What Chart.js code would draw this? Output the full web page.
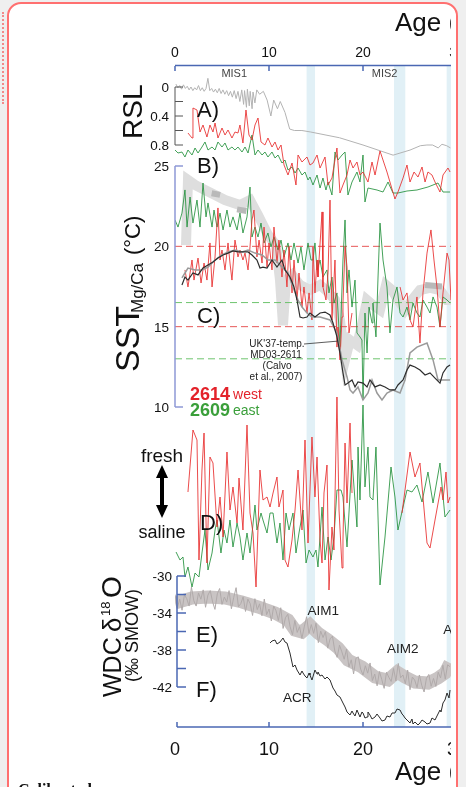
<!DOCTYPE html>
<html>
<head>
<meta charset="utf-8">
<script src="https://cdn.jsdelivr.net/npm/chart.js@4.4.1/dist/chart.umd.min.js"></script>
<style>
  html, body { margin: 0; padding: 0; width: 466px; height: 787px; overflow: hidden; background: #efefef; }
  #frame { position: absolute; left: 7px; top: 2px; width: 447px; height: 830px; background: #fff;
           border: 2px solid #ff7070; border-radius: 14px; }
  #dots { position: absolute; left: 2px; top: 12px; height: 92px; border-left: 2px dotted #f28a8a; }
  #clip { position: absolute; left: 0; top: 0; width: 451px; height: 787px; overflow: hidden; }
  #cap { position: absolute; left: 18px; top: 781px; font: bold 16px "Liberation Serif", serif; color: #111; }
</style>
</head>
<body>
<div id="dots"></div>
<div id="frame"></div>
<div id="clip"><canvas id="fig" width="520" height="787"></canvas></div>
<div id="cap">Calibrated</div>
<script>
// ---- data (age in ka) ----
const ageTicks = [0, 10, 20, 30];
const rslTicks = [0, 0.4, 0.8];
const rslMinor = [0, 0.2, 0.4, 0.6, 0.8];
const sstTicks = [25, 20, 15, 10];
const wdcTicks = [-30, -34, -38, -42];
const wdcMinor = [-30, -32, -34, -36, -38, -40, -42];
const coldBands = [[14.0, 14.9], [23.3, 24.5], [28.9, 29.8]];
const sstLevelsWest = [20, 15];
const sstLevelsEast = [16.5, 13.0];

// A) relative sea level
const rsl = [[0.1,-0.04],[0.3,0.01],[0.5,-0.02],[0.7,0.03],[0.9,-0.03],[1.1,0.02],[1.3,-0.01],[1.5,0.04],[1.7,0.0],[1.9,0.05],
  [2.1,0.01],[2.3,0.04],[2.5,-0.02],[2.7,0.05],[2.9,0.01],[3.1,0.06],[3.3,0.02],[3.5,-0.12],[3.7,0.05],[3.9,0.02],
  [4.1,0.07],[4.3,0.03],[4.5,0.08],[4.7,0.02],[4.9,0.09],[5.1,0.04],[5.3,0.1],[5.5,0.05],[5.7,0.12],[5.9,0.06],
  [6.1,0.14],[6.3,0.05],[6.5,0.16],[6.7,0.06],[6.9,0.2],[7.1,0.04],[7.3,0.24],[7.4,0.05],[7.6,0.28],[7.7,0.03],
  [7.9,0.26],[8.0,0.06],[8.2,0.3],[8.3,0.07],[8.5,0.22],[8.7,0.04],[9.0,0.1],[9.4,0.06],[9.8,0.18],[10.2,0.4],
  [10.5,0.18],[10.9,0.3],[11.2,0.2],[11.7,0.35],[12.2,0.58],[12.7,0.6],[13.5,0.6],[14.4,0.62],[17.5,0.70],[20.0,0.8],
  [23.2,0.94],[25.0,0.87],[26.1,0.81],[26.8,0.8],[27.4,0.8],[28.0,0.84],[28.4,0.79],[28.9,0.81],[29.3,0.84]];

// B) 2614 west / 2609 east (arbitrary units)
const b2614 = [[1.38,1.65],[1.81,1.90],[1.91,0.40],[2.34,0.50],[2.66,1.60],[2.98,1.25],[3.40,1.85],[3.72,1.25],[4.04,1.60],[4.26,1.15],
  [4.57,1.90],[5.00,1.40],[5.32,1.75],[5.64,1.50],[6.06,1.90],[6.38,1.60],[6.70,1.65],[6.91,1.25],[7.23,2.15],[7.55,0.50],
  [7.87,1.75],[8.19,2.00],[8.51,1.25],[8.83,0.90],[9.15,2.10],[9.57,2.25],[9.89,1.90],[10.32,2.35],[10.64,2.10],[10.96,2.50],
  [11.28,2.25],[11.60,3.25],[12.02,3.75],[12.45,3.15],[12.87,4.25],[13.09,2.75],[13.51,3.10],[14.04,2.85],[14.36,3.25],[14.68,3.15],
  [15.11,2.75],[15.43,3.40],[15.96,2.85],[16.28,4.25],[16.70,3.90],[17.23,2.40],[17.55,4.65],[17.87,4.25],[18.30,3.75],[18.62,3.00],
  [18.94,3.40],[19.36,3.10],[19.68,3.75],[20.0,3.60],[20.53,4.10],[20.96,3.10],[21.28,3.75],[21.81,2.55],[22.55,3.60],[23.40,4.95],
  [23.72,4.60],[24.26,3.90],[24.68,3.25],[25.0,4.10],[25.43,3.60],[25.85,3.85],[26.28,3.35],[26.60,4.10],[26.91,3.60],[27.34,3.75],
  [27.66,4.10],[28.19,4.60],[28.51,3.75],[29.04,3.40],[29.26,3.60]];
const b2609 = [[0,2.50],[0.32,2.65],[0.74,2.60],[1.06,2.85],[1.38,2.50],[1.81,2.75],[2.13,2.40],[2.45,2.65],[2.87,2.35],[3.19,2.10],
  [3.51,2.50],[3.94,2.35],[4.26,2.50],[4.57,2.10],[5.00,2.35],[5.32,2.15],[5.64,2.50],[6.06,2.35],[6.38,2.50],[6.70,2.35],
  [7.13,2.60],[7.45,2.35],[7.77,2.65],[8.19,1.75],[8.51,2.75],[8.83,2.50],[9.26,2.75],[9.57,2.60],[9.89,2.85],[10.32,2.60],
  [10.64,2.90],[10.96,2.75],[11.38,3.15],[11.70,3.00],[12.02,3.50],[12.45,3.35],[12.77,3.65],[13.09,3.40],[13.51,3.75],[13.83,3.60],
  [14.15,4.00],[14.36,3.85],[14.68,4.25],[15.11,3.75],[15.43,4.40],[15.74,3.90],[16.06,4.50],[16.28,4.10],[16.70,4.75],[17.02,2.60],
  [17.34,3.00],[17.77,2.75],[18.09,2.60],[18.40,4.75],[18.83,4.10],[19.36,3.60],[19.68,4.10],[20.0,2.75],[20.21,5.10],[20.53,4.40],
  [21.49,4.50],[22.13,4.60],[22.66,4.10],[23.19,4.65],[23.72,4.65],[24.68,4.55],[25.74,4.50],[26.91,4.35],[27.98,4.15],[28.51,4.60],
  [29.26,4.60]];

// C) SST Mg/Ca (deg C)
const sst2614 = [[1.06,18.53],[1.38,17.47],[1.81,19.15],[2.02,17.90],[2.45,19.27],[2.77,17.72],[3.09,18.96],[3.40,17.90],[3.72,20.21],[3.94,17.47],
  [4.26,19.34],[4.57,22.39],[4.79,19.15],[5.00,19.77],[5.32,18.53],[5.64,20.21],[5.85,18.96],[6.06,17.90],[6.38,20.39],[6.70,19.34],
  [6.91,19.77],[7.23,19.15],[7.45,19.58],[7.77,18.53],[7.98,19.96],[8.19,21.64],[8.40,22.26],[8.72,19.34],[8.94,20.39],[9.26,18.96],
  [9.47,21.20],[9.79,18.71],[10.0,20.21],[10.32,18.53],[10.53,21.20],[10.85,18.96],[11.06,20.39],[11.38,18.09],[11.60,19.77],[11.91,17.47],
  [12.13,19.96],[12.45,17.10],[12.66,19.15],[12.98,16.66],[13.19,18.34],[13.51,16.22],[13.72,17.47],[14.04,15.85],[14.26,17.10],[14.57,15.42],
  [14.68,19.96],[14.89,17.10],[15.11,19.15],[15.21,18.09],[15.64,22.14],[15.74,17.47],[16.06,16.66],[16.28,18.34],[16.49,22.88],[16.70,15.42],
  [17.02,19.15],[17.23,13.73],[17.34,14.98],[17.55,12.93],[17.77,15.60],[17.87,16.47],[18.09,19.96],[18.30,18.71],[18.51,14.61],[18.83,15.85],
  [21.0,null],
  [23.94,17.47],[24.26,16.66],[24.68,17.10],[25.0,15.42],[25.32,14.98],[25.74,16.85],[26.06,13.98],[26.38,17.10],[26.81,19.58],[27.23,21.02],
  [27.55,19.15],[27.87,17.47],[28.19,14.98],[28.51,17.10],[28.94,19.58],[29.15,19.15],[29.36,16.66]];
const sst2609 = [[0,21.64],[0.32,21.20],[0.74,22.07],[1.06,23.51],[1.28,21.20],[1.60,23.07],[1.91,21.45],[2.34,22.88],[2.66,21.20],[2.98,23.94],
  [3.30,21.83],[3.51,22.70],[3.94,21.20],[4.15,22.26],[4.47,21.20],[4.79,22.07],[5.11,21.02],[5.53,22.26],[5.85,21.20],[6.17,21.83],
  [6.60,21.02],[6.91,22.07],[7.23,20.83],[7.66,21.83],[7.98,23.69],[8.19,20.58],[8.51,21.20],[8.83,20.58],[9.15,21.45],[9.47,20.21],
  [9.89,20.83],[10.21,19.96],[10.53,20.58],[10.96,19.77],[11.28,20.39],[11.60,19.34],[12.02,20.21],[12.34,19.15],[12.66,20.21],[13.09,18.96],
  [13.40,19.96],[13.72,18.53],[14.15,20.21],[14.47,19.15],[14.68,19.15],[14.89,20.21],[15.11,18.53],[15.43,19.15],[15.74,18.09],[16.17,18.53],
  [16.38,17.10],[16.70,18.09],[16.91,16.47],[17.23,17.10],[17.55,13.73],[17.87,19.15],[18.09,21.64],[18.30,17.10],[18.51,18.53],[18.83,16.22],
  [19.15,17.90],[19.36,14.61],[19.68,14.36],[19.89,14.17],[20.0,10.44],[20.21,15.85],[20.43,13.36],[20.64,16.22],[20.96,15.23],[21.06,16.47],
  [21.38,14.36],[21.60,18.09],[21.81,21.45],[22.13,19.15],[22.55,17.47],[22.87,14.61],[23.19,16.66],[23.62,17.47],[23.94,15.85],[24.26,15.60],
  [24.68,16.22],[25.0,15.42],[25.32,16.47],[25.74,15.85],[26.06,15.60],[26.38,16.66],[26.81,16.22],[27.13,15.85],[27.45,16.85],[27.87,16.22],
  [28.19,14.98],[28.51,16.85],[28.94,16.66],[29.26,16.47]];
// UK'37 temperature, MD03-2611 (Calvo et al., 2007)
const ukBlack = [[0.74,17.59],[1.06,18.09],[1.38,17.90],[1.91,18.34],[2.45,18.22],[2.98,18.65],[3.51,18.84],[4.04,19.02],[4.57,19.27],[5.11,19.46],
  [5.64,19.58],[6.17,19.71],[6.70,19.65],[7.23,19.65],[7.77,19.65],[8.19,19.46],[8.72,19.15],[9.04,18.65],[9.36,18.71],[9.79,18.65],
  [10.32,19.15],[10.85,18.71],[11.38,19.15],[11.70,18.53],[12.23,18.09],[12.66,17.47],[12.98,16.66],[13.30,15.60],[13.62,15.54],[14.04,15.60],
  [14.36,15.85],[14.89,15.60],[15.43,15.85],[15.96,15.91],[16.49,15.73],[16.81,15.23],[17.23,14.36],[17.55,13.36],[17.87,12.12],[18.09,11.37],
  [18.40,11.49],[18.83,11.68],[19.15,11.25],[19.47,11.56],[20.0,11.49],[20.43,11.25],[20.74,11.68],[21.28,11.25],[21.81,11.37],[22.34,11.25],
  [22.87,11.06],[23.40,11.06],[23.72,11.37],[24.26,11.68],[24.68,12.30],[25.0,12.61],[25.53,12.49],[26.06,12.30],[26.60,11.99],[27.13,12.12],
  [27.66,11.80],[28.19,11.49],[28.51,12.12],[28.94,12.49],[29.26,12.61]];
const ukGray = [[0.74,18.03],[1.06,18.34],[1.38,18.65],[2.13,18.53],[2.87,18.53],[3.51,18.71],[4.26,19.15],[5.00,19.46],[5.64,19.65],[6.38,19.77],
  [7.13,19.65],[7.77,19.77],[8.51,19.58],[9.26,19.46],[9.89,19.15],[10.64,19.15],[11.38,18.71],[12.02,18.34],[12.55,17.47],[13.09,16.66],
  [13.51,16.22],[14.04,15.85],[14.57,15.60],[15.43,15.60],[16.49,15.42],[17.23,14.61],[17.77,12.93],[18.30,11.87],[18.62,11.06],[18.94,10.87],
  [19.47,11.25],[20.0,10.44],[20.53,10.87],[20.96,11.68],[21.49,10.87],[22.02,10.44],[22.55,10.87],[23.19,11.06],[23.94,10.87],[24.47,11.68],
  [25.0,13.36],[25.74,13.73],[26.81,13.98],[27.45,12.93],[27.98,11.68],[28.51,11.68],[29.26,11.68]];
// broad grey SST envelope behind panel C
const sstBand = [[1.17,20.08],[1.38,24.13],[2.13,23.82],[3.19,23.51],[4.26,23.20],[5.32,22.88],[6.91,22.57],[7.98,22.88],[8.83,21.95],[9.89,20.71],
  [10.74,20.08],[11.17,17.90],[11.49,15.10],[11.81,17.90],[12.45,18.22],[13.30,17.59],[14.36,17.28],[15.43,17.59],[16.28,17.16],[17.02,16.66],
  [17.55,15.42],[18.09,12.93],[18.62,14.17],[19.36,13.86],[19.89,15.10],[20.43,16.66],[21.06,16.35],[21.81,16.04],[22.45,17.59],[23.09,17.28],
  [23.72,16.66],[24.47,16.04],[25.21,16.66],[26.06,17.28],[27.13,17.41],[28.19,17.28],[28.94,16.66],[29.47,16.66]];
const sstBandDark = [[3.9,23.3],[4.8,23.2],[5.5,null],[6.6,22.3],[7.6,22.2],[15,null],[26.6,17.6],[28.4,17.5]];

// D) salinity proxy (fresh up)
const d2614 = [[1.38,3.60],[1.91,0.50],[2.34,1.00],[2.55,7.00],[2.87,2.50],[3.09,0.65],[3.40,7.15],[3.72,1.85],[4.04,2.15],[4.47,5.35],
  [4.79,3.85],[5.11,5.85],[5.53,1.60],[5.85,4.50],[6.17,3.35],[6.60,5.15],[6.81,2.90],[7.23,5.50],[7.66,0.25],[7.98,4.65],
  [8.30,5.65],[8.62,8.35],[9.04,2.50],[9.36,4.00],[9.79,3.85],[10.11,4.35],[10.43,3.65],[10.85,2.85],[11.06,4.35],[11.49,3.50],
  [11.70,7.00],[12.02,7.35],[12.45,6.00],[12.77,4.50],[13.09,2.50],[13.51,5.50],[13.83,1.00],[14.15,6.15],[14.57,0.85],[14.89,3.85],
  [15.11,1.85],[15.43,6.00],[15.64,7.15],[15.85,3.65],[16.17,2.25],[16.38,8.50],[16.70,5.35],[16.91,6.50],[17.23,-1.15],[17.45,4.50],
  [17.77,7.40],[17.87,6.00],[18.09,1.15],[18.30,4.15],[18.62,0.15],[18.83,3.65],
  [21.0,null],
  [24.15,4.65],[24.47,3.50],[25.0,1.60],[25.53,2.85],[26.06,2.15],[26.38,3.85],[26.81,6.15],[27.13,6.40],[27.66,5.00],[28.30,3.35],
  [28.51,4.00],[28.83,2.60],[29.04,4.15],[29.26,3.85]];
const d2609 = [[0.11,6.60],[0.53,7.00],[0.85,6.85],[1.06,7.85],[1.38,7.35],[1.81,8.35],[2.13,7.65],[2.55,7.85],[2.87,6.65],[3.19,5.50],
  [3.51,7.50],[3.94,6.65],[4.26,5.50],[4.47,5.00],[4.89,6.65],[5.21,5.50],[5.53,6.15],[5.85,5.00],[6.17,6.35],[6.60,5.15],
  [6.91,5.85],[7.23,7.00],[7.66,5.65],[7.98,6.65],[8.51,4.25],[8.72,5.50],[9.15,4.65],[9.36,5.00],[9.79,5.65],[10.11,4.65],
  [10.43,4.65],[10.85,6.15],[11.17,5.15],[11.49,7.00],[11.81,4.65],[12.13,5.50],[12.55,4.65],[12.87,6.65],[13.19,5.65],[13.62,4.50],
  [13.94,7.15],[14.26,6.50],[14.68,6.85],[15.0,6.50],[15.21,7.35],[15.64,4.35],[15.96,7.00],[16.28,5.85],[16.60,7.00],[16.91,5.85],
  [17.23,3.50],[17.66,3.50],[17.87,3.85],[18.30,6.35],[18.83,2.00],[19.36,5.35],[19.47,1.35],[19.68,4.00],[20.0,-0.75],[20.21,3.35],
  [20.53,1.35],[20.74,3.85],[21.06,4.00],[21.38,1.35],[21.81,8.25],[22.34,5.85],[22.98,2.35],[23.40,3.85],[23.72,5.50],[24.26,4.35],
  [24.68,3.50],[25.21,3.60],[25.74,3.25],[26.28,4.10],[26.91,2.60],[27.45,4.15],[28.19,2.15],[28.72,4.85],[29.26,4.50]];

// E) WDC d18O (permil SMOW)
const wdcE = [[0.00,-32.0],[0.25,-33.45],[0.50,-32.5],[0.75,-33.7],[1.00,-32.05],[1.25,-32.45],[1.50,-33.25],[1.75,-31.2],[2.00,-32.67],[2.25,-33.25],
  [2.50,-31.83],[2.75,-32.51],[3.00,-31.5],[3.25,-33.38],[3.50,-32.07],[3.75,-31.58],[4.00,-32.8],[4.25,-33.61],[4.50,-31.93],[4.75,-31.35],
  [5.00,-33.07],[5.25,-32.28],[5.50,-32.82],[5.75,-31.58],[6.00,-33.54],[6.25,-32.3],[6.50,-31.26],[6.75,-33.32],[7.00,-32.98],[7.25,-32.25],
  [7.50,-33.83],[7.75,-32.5],[8.00,-32.99],[8.25,-34.27],[8.50,-32.45],[8.75,-33.63],[9.00,-33.01],[9.25,-34.3],[9.50,-32.49],[9.75,-34.18],
  [10.00,-33.57],[10.25,-34.86],[10.50,-33.25],[10.75,-33.76],[11.00,-34.8],[11.25,-33.43],[11.50,-35.67],[11.75,-34.5],[12.00,-34.14],[12.25,-35.5],
  [12.50,-36.35],[12.75,-34.8],[13.00,-36.1],[13.25,-35.48],[13.50,-36.75],[13.75,-35.5],[14.00,-34.4],[14.25,-36.2],[14.50,-35.25],[14.75,-36.2],
  [15.00,-35.1],[15.25,-37.2],[15.50,-35.96],[15.75,-36.65],[16.00,-36.02],[16.25,-37.8],[16.50,-36.8],[16.75,-36.5],[17.00,-38.1],[17.25,-38.8],
  [17.50,-37.48],[17.75,-38.2],[18.00,-39.0],[18.25,-37.9],[18.50,-39.83],[18.75,-39.06],[19.00,-40.58],[19.25,-38.9],[19.50,-38.74],[19.75,-40.07],
  [20.00,-40.7],[20.25,-39.7],[20.50,-40.5],[20.75,-39.4],[21.00,-41.3],[21.25,-40.6],[21.50,-41.87],[21.75,-40.33],[22.00,-41.2],[22.25,-42.15],
  [22.50,-40.4],[22.75,-40.96],[23.00,-41.4],[23.25,-40.0],[23.50,-41.35],[23.75,-39.45],[24.00,-41.0],[24.25,-40.7],[24.50,-41.63],[24.75,-40.17],
  [25.00,-42.3],[25.25,-40.93],[25.50,-41.25],[25.75,-42.07],[26.00,-40.7],[26.25,-41.82],[26.50,-42.54],[26.75,-41.06],[27.00,-40.64],[27.25,-41.92],
  [27.50,-41.08],[27.75,-41.94],[28.00,-40.4],[28.25,-41.02],[28.50,-39.64],[28.75,-41.15],[29.00,-39.6],[29.25,-39.8]];
const wdcMean = [[0,-32.92],[1.81,-32.38],[3.51,-32.27],[5.32,-32.38],[7.13,-32.81],[8.83,-33.35],[10.64,-34.0],[12.02,-34.76],[12.77,-35.84],[13.51,-36.05],
  [14.36,-35.30],[15.21,-36.16],[16.28,-36.92],[17.34,-37.78],[18.40,-39.08],[19.89,-39.84],[21.28,-40.92],[22.66,-41.24],[23.62,-40.38],[24.47,-40.92],
  [25.53,-41.46],[26.91,-41.57],[27.98,-41.03],[28.72,-40.49],[29.26,-39.40]];

// F) second ice-core record (permil)
const recF = [[10.11,-41.3],[10.32,-41.1],[10.64,-41.0],[10.85,-41.4],[11.17,-41.2],[11.49,-40.8],[11.70,-41.2],[11.91,-41.3],[12.23,-42.3],[12.55,-43.7],
  [12.77,-43.5],[12.98,-44.0],[13.30,-44.5],[13.51,-44.1],[13.62,-44.3],[13.83,-44.6],[14.04,-44.8],[14.26,-44.3],[14.36,-44.5],[14.57,-45.0],
  [14.89,-44.0],[15.11,-44.4],[15.21,-44.2],[15.43,-44.6],[15.64,-44.5],[15.96,-44.9],[16.17,-44.7],[16.49,-45.0],[16.81,-45.8],[17.02,-46.1],
  [17.23,-46.5],[17.55,-46.7],[17.87,-47.3],[18.09,-47.7],[18.30,-48.2],[18.62,-48.5],[18.83,-48.1],[18.94,-48.3],[19.15,-48.6],[19.36,-48.0],
  [19.68,-48.7],[19.89,-48.2],[20.0,-48.3],[20.21,-48.8],[20.43,-48.7],[20.53,-48.2],[20.74,-48.5],[20.96,-48.9],[21.28,-48.7],[21.49,-48.4],
  [21.81,-48.8],[22.02,-49.1],[22.34,-49.0],[22.55,-48.6],[22.87,-48.7],[23.09,-48.3],[23.40,-48.3],[23.62,-47.9],[23.94,-48.0],[24.15,-48.4],
  [24.26,-48.5],[24.47,-48.8],[24.68,-49.0],[25.0,-49.3],[25.21,-48.9],[25.32,-49.4],[25.53,-49.2],[25.85,-49.5],[26.06,-49.3],[26.28,-49.0],
  [26.60,-49.2],[26.81,-49.4],[27.13,-49.3],[27.34,-48.8],[27.66,-49.0],[27.87,-48.6],[28.19,-48.0],[28.30,-48.2],[28.51,-47.3],[28.72,-47.0],
  [28.94,-46.3],[29.15,-46.8],[29.26,-46.0]];

// ---- helpers ----
const RED = 'rgba(232,45,45,0.85)';
const GREEN = 'rgba(35,145,60,0.85)';
const FONT = '"Liberation Sans", Arial, sans-serif';
const pts = arr => arr.map(([x, y]) => ({ x, y }));

function series(data, axis, color, width, extra) {
  return Object.assign({
    data: pts(data), yAxisID: axis, borderColor: color, borderWidth: width,
    pointRadius: 0, tension: 0, fill: false, spanGaps: false
  }, extra || {});
}
function level(value, axis, color) {
  return series([[0, value], [33, value]], axis, color, 1, { borderDash: [7, 4] });
}

// ---- overlay drawing: bands, axes and labels ----
function text(ctx, s, x, y, font, color, align) {
  ctx.font = font;
  ctx.fillStyle = color || '#111';
  ctx.textAlign = align || 'left';
  ctx.textBaseline = 'alphabetic';
  ctx.fillText(s, x, y);
}
// vertical text read bottom-to-top; pieces = [str, font, baselineX, startY]
function vtext(ctx, pieces, color) {
  pieces.forEach(([s, font, bx, sy]) => {
    ctx.save();
    ctx.translate(bx, sy);
    ctx.rotate(-Math.PI / 2);
    text(ctx, s, 0, 0, font, color || '#111', 'left');
    ctx.restore();
  });
}
function seg(ctx, x1, y1, x2, y2) {
  ctx.beginPath(); ctx.moveTo(x1, y1); ctx.lineTo(x2, y2); ctx.stroke();
}

const overlay = {
  id: 'overlay',
  beforeDatasetsDraw(chart) {
    const { ctx, chartArea: a, scales } = chart;
    ctx.save();
    ctx.fillStyle = '#e1f0f6';
    coldBands.forEach(([s, e]) => {
      const x1 = scales.x.getPixelForValue(s), x2 = scales.x.getPixelForValue(e);
      ctx.fillRect(x1, a.top, x2 - x1, a.bottom - a.top);
    });
    ctx.restore();
  },
  afterDatasetsDraw(chart) {
    const { ctx, chartArea: a, scales } = chart;
    const xs = scales.x, x0 = xs.getPixelForValue(0);
    ctx.save();

    // age axes (top and bottom)
    ctx.strokeStyle = '#4a67b3'; ctx.lineWidth = 1.5;
    seg(ctx, x0, a.top - 0.5, a.right, a.top - 0.5);
    seg(ctx, x0 + 2, a.bottom, a.right, a.bottom);
    ageTicks.forEach(t => {
      const X = xs.getPixelForValue(t);
      seg(ctx, X, a.top, X, a.top + 5);
      seg(ctx, X + (t === 0 ? 2 : 0), a.bottom, X + (t === 0 ? 2 : 0), a.bottom - 5);
      text(ctx, String(t), X, 57, '14px ' + FONT, '#111', 'center');
      text(ctx, String(t), X, 755, '18px ' + FONT, '#111', 'center');
    });
    text(ctx, 'Age (ka)', 395, 31, '26px ' + FONT, '#111');
    text(ctx, 'Age (ka)', 395, 780, '26px ' + FONT, '#111');
    text(ctx, 'MIS1', xs.getPixelForValue(6.3), 77, '11px ' + FONT, '#444', 'center');
    text(ctx, 'MIS2', xs.getPixelForValue(22.3), 77, '11px ' + FONT, '#444', 'center');

    // RSL axis
    const yr = scales.yRsl;
    ctx.strokeStyle = '#555'; ctx.lineWidth = 1;
    seg(ctx, x0, yr.getPixelForValue(0), x0, yr.getPixelForValue(0.8));
    rslMinor.forEach(v => seg(ctx, x0, yr.getPixelForValue(v), x0 + 8, yr.getPixelForValue(v)));
    rslTicks.forEach(v => text(ctx, String(v), 169, yr.getPixelForValue(v) + 5, '13.5px ' + FONT, '#111', 'right'));

    // SST axis
    const ys = scales.ySst;
    ctx.strokeStyle = '#8e99d6'; ctx.lineWidth = 1.5;
    seg(ctx, x0, ys.getPixelForValue(25), x0, ys.getPixelForValue(10));
    [25, 10].forEach(v => seg(ctx, x0, ys.getPixelForValue(v), x0 + 8, ys.getPixelForValue(v)));
    sstTicks.forEach(v => text(ctx, String(v), 169, ys.getPixelForValue(v) + 5, '13.5px ' + FONT, '#111', 'right'));

    // WDC axis
    const yw = scales.yWdc;
    ctx.strokeStyle = '#4a67b3'; ctx.lineWidth = 1.5;
    seg(ctx, x0 + 2, yw.getPixelForValue(-30), x0 + 2, yw.getPixelForValue(-42));
    wdcMinor.forEach(v => seg(ctx, x0 + 2, yw.getPixelForValue(v), x0 + 11, yw.getPixelForValue(v)));
    wdcTicks.forEach(v => text(ctx, String(v), 172, yw.getPixelForValue(v) + 5, '13.5px ' + FONT, '#111', 'right'));

    // panel letters
    const big = '22px ' + FONT;
    text(ctx, 'A)', 197, 117, big); text(ctx, 'B)', 197, 173, big); text(ctx, 'C)', 197, 323, big);
    text(ctx, 'D)', 200, 530, big); text(ctx, 'E)', 196, 642, big); text(ctx, 'F)', 196, 697, big);

    // y titles
    vtext(ctx, [['RSL', '28px ' + FONT, 142, 139]]);
    vtext(ctx, [['SST', '34px ' + FONT, 139, 372], ['Mg/Ca', '17px ' + FONT, 143, 313], ['(°C)', '22px ' + FONT, 140, 255]]);
    vtext(ctx, [['WDC', '25px ' + FONT, 121, 697], ['δ', '26px ' + FONT, 121, 632], ['18', '13px ' + FONT, 110, 616], ['O', '28px ' + FONT, 121, 598]]);
    vtext(ctx, [['(‰ SMOW)', '18px ' + FONT, 138, 682]]);

    // fresh / saline arrow
    text(ctx, 'fresh', 162, 462, '19px ' + FONT, '#111', 'center');
    text(ctx, 'saline', 162, 538, '18px ' + FONT, '#111', 'center');
    ctx.fillStyle = '#000';
    ctx.fillRect(160, 474, 4, 34);
    ctx.beginPath(); ctx.moveTo(162, 465); ctx.lineTo(168, 478); ctx.lineTo(156, 478); ctx.closePath(); ctx.fill();
    ctx.beginPath(); ctx.moveTo(162, 518); ctx.lineTo(168, 505); ctx.lineTo(156, 505); ctx.closePath(); ctx.fill();

    // core legend
    ctx.font = 'bold 18px ' + FONT;
    const w1 = ctx.measureText('2614').width;
    text(ctx, '2614', 190, 400, 'bold 18px ' + FONT, '#e3222a');
    text(ctx, 'west', 193 + w1, 399, '14px ' + FONT, '#e3222a');
    text(ctx, '2609', 190, 416, 'bold 18px ' + FONT, '#3a9f3a');
    text(ctx, 'east', 193 + w1, 415, '14px ' + FONT, '#3a9f3a');

    // UK'37 note with leader
    const nf = '10px ' + FONT;
    text(ctx, "UK'37-temp.", 277, 347, nf, '#222', 'center');
    text(ctx, 'MD03-2611', 276, 358, nf, '#222', 'center');
    text(ctx, '(Calvo', 277, 369, nf, '#222', 'center');
    text(ctx, 'et al., 2007)', 276, 380, nf, '#222', 'center');
    ctx.strokeStyle = '#333'; ctx.lineWidth = 0.8;
    seg(ctx, 304, 344, xs.getPixelForValue(17.3), ys.getPixelForValue(14.1));

    // event labels
    const ef = '13.5px ' + FONT;
    text(ctx, 'AIM1', xs.getPixelForValue(14.1), yw.getPixelForValue(-34.2), ef, '#222');
    text(ctx, 'AIM2', xs.getPixelForValue(22.55), yw.getPixelForValue(-38.3), ef, '#222');
    text(ctx, 'AIM3', xs.getPixelForValue(28.55), yw.getPixelForValue(-36.3), ef, '#222');
    text(ctx, 'ACR', xs.getPixelForValue(11.5), 702, ef, '#222');
    ctx.restore();
  }
};

// ---- chart ----
const datasets = [
  series(ukBlack, 'ySst', '#2d2d2d', 1.2),
  series(ukGray, 'ySst', '#9a9a9a', 1.5),
  series(recF, 'yF', '#2b2b2b', 1),
  series(wdcE, 'yWdc', '#b0aaaa', 1),
  series(wdcMean, 'yWdc', '#c9c4c4', 13),
  series(d2614, 'yD', RED, 1),
  series(d2609, 'yD', GREEN, 1),
  series(sst2614, 'ySst', RED, 1),
  series(sst2609, 'ySst', GREEN, 1),
  series(b2614, 'yB', RED, 1),
  series(b2609, 'yB', GREEN, 1),
  series(rsl, 'yRsl', '#b3b3b3', 1),
  ...sstLevelsWest.map(v => level(v, 'ySst', 'rgba(228,70,70,0.9)')),
  ...sstLevelsEast.map(v => level(v, 'ySst', 'rgba(95,190,95,0.9)')),
  series(sstBandDark, 'ySst', '#b9b9b9', 6),
  series(sstBand, 'ySst', '#dedede', 10)
];

const hidden = (min, max, reverse) => ({ type: 'linear', axis: 'y', position: 'left', display: false, min, max, reverse: !!reverse });

new Chart(document.getElementById('fig').getContext('2d'), {
  type: 'line',
  data: { datasets },
  options: {
    responsive: false,
    animation: false,
    devicePixelRatio: 1,
    layout: { padding: { left: 175, right: 34.8, top: 66, bottom: 60 } },
    plugins: { legend: { display: false }, tooltip: { enabled: false } },
    scales: {
      x: { type: 'linear', display: false, min: 0, max: 33 },
      yRsl: hidden(-0.2897, 8.8276, true),
      yB: hidden(-1.7, 31.35, true),
      ySst: hidden(-9.917, 31.224),
      yD: hidden(-17.7, 15.35, true),
      yWdc: hidden(-46.324, 25.135),
      yF: hidden(-49.7, 16.4)
    }
  },
  plugins: [overlay]
});
</script>
</body>
</html>
